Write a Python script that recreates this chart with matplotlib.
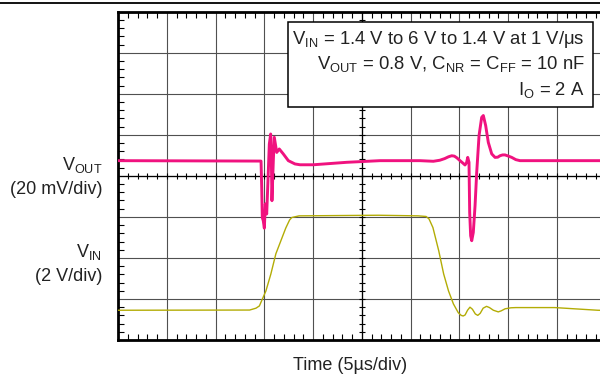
import numpy as np
import matplotlib
matplotlib.use("Agg")
import matplotlib.pyplot as plt
from matplotlib.patches import Rectangle
from matplotlib.lines import Line2D

plt.rcParams['font.family'] = ['Liberation Sans', 'DejaVu Sans']
plt.rcParams['mathtext.fontset'] = 'custom'
plt.rcParams['mathtext.rm'] = 'Liberation Sans'
plt.rcParams['mathtext.it'] = 'Liberation Sans:italic'
plt.rcParams['mathtext.bf'] = 'Liberation Sans:bold'

# scope settings
t_per_div = 5.0      # us/div
vout_per_div = 20.0  # mV/div
vin_per_div = 2.0    # V/div
vout_offset = 0.37   # div, VOUT trace position
vin_offset = -4.0    # div, VIN ground position

# VIN trace (us, V)
t_vin = [0, 13.5, 14.15, 14.5, 15.17, 15.68, 16.19, 16.7, 17.21, 17.6, 17.83, 18.57,
         26.7, 30.8, 31.6, 31.9, 32.3, 32.9, 33.4, 33.9, 34.4, 34.9, 35.2, 35.4,
         35.6, 35.85, 36.1, 36.35, 36.65, 36.9, 37.15, 37.45, 37.8, 38.1, 38.5,
         39.0, 39.3, 39.7, 40.3, 40.8, 44.8, 49.2, 50]
vin = [1.45, 1.46, 1.55, 1.66, 2.39, 3.22, 4.2, 4.83, 5.46, 5.85, 5.97, 6.05,
       6.08, 6.05, 6.02, 5.9, 5.48, 4.34, 3.22, 2.39, 1.76, 1.33, 1.2, 1.17,
       1.22, 1.45, 1.6, 1.5, 1.27, 1.2, 1.3, 1.55, 1.64, 1.58, 1.45,
       1.37, 1.42, 1.52, 1.57, 1.58, 1.58, 1.45, 1.44]

# VOUT trace (us, mV deviation)
t_vout = [0, 14.67, 14.74, 14.8, 14.9, 15.01, 15.11, 15.25, 15.42, 15.52, 15.66,
          15.72, 15.79, 15.93, 16.03, 16.28, 16.54, 16.95, 17.47, 18.15, 18.67,
          20.03, 23.46, 26.87, 30.97, 32.34, 33.0, 33.5, 33.9, 34.23, 34.5, 34.75,
          35.08, 35.4, 35.59, 35.75, 35.87, 36.0, 36.07, 36.17, 36.28, 36.44,
          36.62, 36.79, 37.03, 37.3, 37.47, 37.71, 37.98, 38.33, 38.67, 38.95,
          39.18, 39.45, 39.69, 40.0, 40.38, 40.8, 41.23, 50]
vout_mv = [0, -0.2, -13.0, -27.7, -29.3, -32.9, -21.1, -26.0, -4.9, 8.1, 13.0,
           3.4, -19.5, 0, 11.4, 4.0, 5.7, 3.3, 0, -1.6, -2.0,
           -2.0, -0.8, 0, 0, -0.3, 0.2, 1.0, 1.9, 2.4, 2.2, 1.4,
           0, -1.3, -2.1, -1.0, 1.6, -0.8, -25.2, -36.6, -39.0, -35.0,
           -22.0, -5.7, 12.2, 21.1, 22.0, 17.1, 8.9, 3.3, 1.6, 1.7,
           2.4, 2.8, 2.8, 2.3, 1.6, 0.5, 0, 0]

W, H = 600, 375
fig = plt.figure(figsize=(6, 3.75), dpi=100)
ax = fig.add_axes([118 / W, 1 - 340 / H, 487.5 / W, 328.3 / H])

ax.plot(t_vin, np.array(vin) / vin_per_div + vin_offset, color='#B3AC05', lw=1.0,
        zorder=3, solid_joinstyle='round')
ax.plot(t_vout, np.array(vout_mv) / vout_per_div + vout_offset, color='#F0127F', lw=2.1,
        zorder=4, solid_joinstyle='round')

ax.set_xlim(0, 10 * t_per_div)
ax.set_ylim(-4, 4)
ax.set_xticks(np.arange(0, 50.1, t_per_div))
ax.set_yticks(np.arange(-4, 4.1, 1))
ax.set_xticks(np.arange(0, 50.1, t_per_div / 5), minor=True)
ax.set_yticks(np.arange(-4, 4.01, 0.2), minor=True)
ax.grid(which='major', color='#505050', lw=0.8)
ax.tick_params(which='both', direction='in', top=True, right=True,
               labelleft=False, labelbottom=False, color='k')
ax.tick_params(which='major', length=0)
ax.tick_params(which='minor', length=4.5, width=0.8)
for s in ax.spines.values():
    s.set_linewidth(2.0)

# center crosshair ticks
ax.plot(np.arange(0, 50.1, 1), np.zeros(51), ls='none', marker='|', ms=5, mew=0.8, color='k', zorder=2)
ax.plot(np.full(41, 25.0), np.arange(-4, 4.01, 0.2), ls='none', marker='_', ms=5, mew=0.8, color='k', zorder=2)
ax.axhline(0, color='k', lw=0.9, zorder=2)
ax.axvline(25, color='k', lw=0.9, zorder=2)

# annotation box
fig.add_artist(Rectangle((288 / W, 1 - 107 / H), 305 / W, 85 / H, transform=fig.transFigure,
                         facecolor='white', edgecolor='k', lw=1.1, zorder=5))
box_lines = [r'V$_\mathregular{IN}$ = 1.4 V to 6 V to 1.4 V at 1 V/μs',
             r'V$_\mathregular{OUT}$ = 0.8 V, C$_\mathregular{NR}$ = C$_\mathregular{FF}$ = 10 nF',
             r'I$_\mathregular{O}$ = 2 A']
for txt, yb in zip(box_lines, [43.5, 69, 95]):
    fig.text(585 / W, 1 - yb / H, txt, ha='right', va='baseline', fontsize=13.3,
             color='#222222', zorder=6)

# channel labels
fig.text(102 / W, 1 - 170 / H, r'V$_\mathregular{OUT}$', ha='right', va='baseline', fontsize=13, color='#222222')
fig.text(102 / W, 1 - 193.5 / H, '(20 mV/div)', ha='right', va='baseline', fontsize=13, color='#222222')
fig.text(102 / W, 1 - 256.7 / H, r'V$_\mathregular{IN}$', ha='right', va='baseline', fontsize=13, color='#222222')
fig.text(102 / W, 1 - 281 / H, '(2 V/div)', ha='right', va='baseline', fontsize=13, color='#222222')
fig.text(350 / W, 1 - 370.5 / H, 'Time (5µs/div)', ha='center', va='baseline', fontsize=13, color='#222222')

# page rule at top
fig.add_artist(Line2D([0, 1], [1 - 2.5 / H, 1 - 2.5 / H], transform=fig.transFigure, color='k', lw=1.3))

fig.savefig('out.png', dpi=100)
